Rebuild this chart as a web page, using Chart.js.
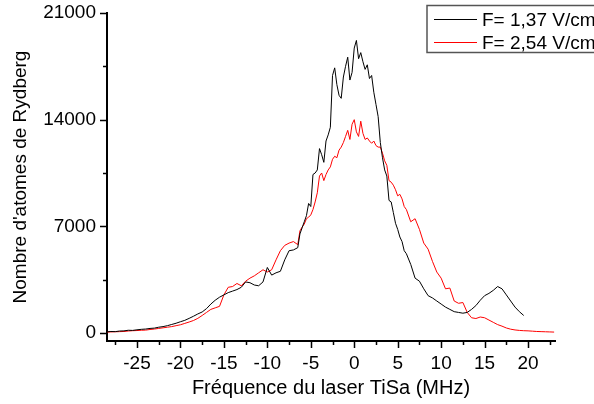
<!DOCTYPE html>
<html>
<head>
<meta charset="utf-8">
<script src="https://cdn.jsdelivr.net/npm/chart.js@4.4.0/dist/chart.umd.min.js"></script>
<style>
  html, body { margin: 0; padding: 0; background: #fff; }
  #wrap { width: 594px; height: 404px; }
</style>
</head>
<body>
<div id="wrap"><canvas id="spectre" width="594" height="404"></canvas></div>
<script>
// frequency grid (MHz), shared by both series
const freq = [
  -28.4, -28, -27.5, -27, -26.5, -26, -25.5, -25, -24.5, -24, -23.5, -23, -22.5, -22, -21.5,
  -21, -20.5, -20, -19.5, -19, -18.5, -18, -17.5, -17, -16.5, -16, -15.5, -15, -14.5, -14,
  -13.5, -13, -12.5, -12, -11.5, -11, -10.5, -10, -9.5, -9, -8.5, -8, -7.5, -7, -6.5,
  -6.25, -6, -5.75, -5.5, -5.25, -5, -4.75, -4.5, -4.25, -4, -3.75, -3.5, -3.25, -3, -2.75,
  -2.5, -2.25, -2, -1.75, -1.5, -1.25, -1, -0.75, -0.5, -0.25, 0, 0.25, 0.5, 0.75, 1,
  1.25, 1.5, 1.75, 2, 2.25, 2.5, 2.75, 3, 3.25, 3.5, 3.75, 4, 4.25, 4.5, 4.75,
  5, 5.25, 5.5, 5.75, 6,
  6.5, 7, 7.5, 8, 8.5, 9, 9.5, 10, 10.5, 11, 11.5, 12, 12.5, 13, 13.5, 14, 14.5, 15,
  15.5, 16, 16.5, 17, 17.5, 18, 18.5, 19, 19.5, 20, 20.5, 21, 21.5, 22, 22.5, 23
];

// F = 1,37 V/cm (black) - stops at 19.5 MHz
const countsLow = [
  80, 100, 90, 130, 140, 180, 170, 210, 240, 260, 300, 320, 380, 420, 480,
  560, 640, 740, 830, 960, 1100, 1250, 1380, 1600, 1900, 2150, 2350, 2500, 2650, 2750,
  2850, 3000, 3350, 3300, 3150, 3100, 3350, 4300, 3800, 3950, 4050, 4800, 5400, 5450, 5600,
  6500, 6900, 7300, 7700, 8500, 8300, 10400, 10500, 10700, 12100, 11700, 11200, 12600, 13000, 13500,
  16900, 17400, 16300, 15600, 15400, 16800, 17500, 18100, 16600, 17100, 18700, 19200, 18000, 18400, 17800,
  17300, 17600, 16700, 16900, 15800, 15000, 14200, 12500, 11500, 10700, 10300, 8700, 8600, 7900, 7200,
  6800, 6300, 6000, 5400, 5200,
  4500, 3600, 3400, 2900, 2450, 2300, 2100, 1900, 1700, 1550, 1400, 1350, 1300, 1350, 1550, 1800, 2150, 2450,
  2600, 2800, 3050, 2900, 2500, 2100, 1700, 1400, 1150
];

// F = 2,54 V/cm (red)
const countsHigh = [
  60, 70, 80, 90, 100, 130, 150, 160, 180, 190, 230, 260, 300, 340, 380,
  420, 480, 540, 630, 720, 820, 960, 1150, 1350, 1550, 1650, 1750, 2500, 3000, 3050,
  3250, 3100, 3400, 3600, 3750, 3950, 4150, 4000, 4150, 4800, 5400, 5750, 5900, 6000, 5800,
  6700, 6950, 7150, 7500, 7600, 7750, 8100, 8600, 9200, 10300, 10500, 10000, 10400, 10700, 10900,
  11400, 11600, 11500, 12000, 12200, 12500, 12900, 13300, 12700, 13700, 14000, 13200, 12900, 13900, 13100,
  12700, 12800, 12600, 12450, 12600, 12300, 12200, 12200, 11800, 11300, 11000, 10000, 9900, 9700, 9400,
  9000, 9100, 8800, 8300, 8100,
  7300, 7500, 6800, 5900, 5500, 4700, 4000, 3600, 2900, 2950, 2100, 1950, 2000, 1350, 1000, 950, 1050, 1000,
  850, 700, 550, 450, 330, 250, 200, 170, 150, 140, 120, 100, 90, 80, 70, 60
];

const seriesNames = ['F= 1,37 V/cm', 'F= 2,54 V/cm'];
const seriesColors = ['#000000', '#ff0000'];

const xMajor = [-25, -20, -15, -10, -5, 0, 5, 10, 15, 20];
const xMinor = [-27.5, -22.5, -17.5, -12.5, -7.5, -2.5, 2.5, 7.5, 12.5, 17.5, 22.5];
const yMajor = [0, 7000, 14000, 21000];
const yMinor = [3500, 10500, 17500];

const FONT = "'Liberation Sans', Arial, sans-serif";

function toPoints(xs, ys) {
  return ys.map((v, i) => ({ x: xs[i], y: v }));
}

// tick marks (long major, short minor) and the boxed legend
const decorations = {
  id: 'decorations',
  afterDraw(chart) {
    const { ctx, scales: { x, y } } = chart;
    ctx.save();
    ctx.strokeStyle = '#000';
    ctx.lineWidth = 1.5;
    ctx.beginPath();
    const bottom = y.getPixelForValue(y.min);
    const left = x.getPixelForValue(x.min);
    xMajor.concat(xMinor).forEach(v => {
      const px = Math.round(x.getPixelForValue(v)) + 0.5;
      const len = xMajor.includes(v) ? 7 : 4;
      ctx.moveTo(px, bottom);
      ctx.lineTo(px, bottom + len);
    });
    yMajor.concat(yMinor).forEach(v => {
      const py = Math.round(y.getPixelForValue(v)) + 0.5;
      const len = yMajor.includes(v) ? 7 : 4;
      ctx.moveTo(left, py);
      ctx.lineTo(left - len, py);
    });
    ctx.stroke();

    // legend
    ctx.strokeStyle = '#555';
    ctx.lineWidth = 1.5;
    ctx.strokeRect(427, 5.5, 200, 47);
    ctx.font = '19px ' + FONT;
    ctx.textBaseline = 'middle';
    ctx.fillStyle = '#000';
    const rows = [19.5, 42.5];
    seriesNames.forEach((name, i) => {
      ctx.strokeStyle = seriesColors[i];
      ctx.lineWidth = 1;
      ctx.beginPath();
      ctx.moveTo(434, rows[i]);
      ctx.lineTo(477, rows[i]);
      ctx.stroke();
      ctx.fillText(name, 482, rows[i] + 1);
    });
    ctx.restore();
  }
};

new Chart(document.getElementById('spectre'), {
  type: 'scatter',
  data: {
    datasets: [
      {
        label: seriesNames[0],
        data: toPoints(freq, countsLow),
        showLine: true,
        borderColor: seriesColors[0],
        borderWidth: 1,
        pointRadius: 0,
        tension: 0
      },
      {
        label: seriesNames[1],
        data: toPoints(freq, countsHigh),
        showLine: true,
        borderColor: seriesColors[1],
        borderWidth: 1,
        pointRadius: 0,
        tension: 0
      }
    ]
  },
  options: {
    responsive: false,
    animation: false,
    layout: { padding: { top: 13, right: 39, left: 0, bottom: 0 } },
    plugins: {
      legend: { display: false },
      tooltip: { enabled: false }
    },
    scales: {
      x: {
        type: 'linear',
        min: -28.45,
        max: 23.1,
        afterBuildTicks: s => { s.ticks = xMajor.concat(xMinor).sort((a, b) => a - b).map(v => ({ value: v })); },
        afterFit: s => { s.height = 63; s.paddingLeft = 0; s.paddingRight = 0; },
        grid: { display: false, drawTicks: false },
        border: { display: true, color: '#000', width: 2 },
        ticks: {
          padding: 11,
          color: '#000',
          font: { family: FONT, size: 19 },
          maxRotation: 0,
          autoSkip: false,
          callback: v => xMajor.includes(v) ? String(v) : ''
        },
        title: {
          display: true,
          text: 'Fréquence du laser TiSa (MHz)',
          color: '#000',
          font: { family: FONT, size: 20 },
          padding: { top: 4, bottom: 4 }
        }
      },
      y: {
        type: 'linear',
        min: -525,
        max: 21000,
        afterBuildTicks: s => { s.ticks = yMajor.concat(yMinor).sort((a, b) => a - b).map(v => ({ value: v })); },
        afterFit: s => { s.width = 107; s.paddingTop = 0; s.paddingBottom = 0; },
        grid: { display: false, drawTicks: false },
        border: { display: true, color: '#000', width: 2 },
        ticks: {
          padding: 11,
          color: '#000',
          font: { family: FONT, size: 19 },
          autoSkip: false,
          callback: v => yMajor.includes(v) ? String(v) : ''
        },
        title: {
          display: true,
          text: "Nombre d'atomes de Rydberg",
          color: '#000',
          font: { family: FONT, size: 19 },
          padding: { top: 9, bottom: 4 }
        }
      }
    }
  },
  plugins: [decorations]
});
</script>
</body>
</html>
